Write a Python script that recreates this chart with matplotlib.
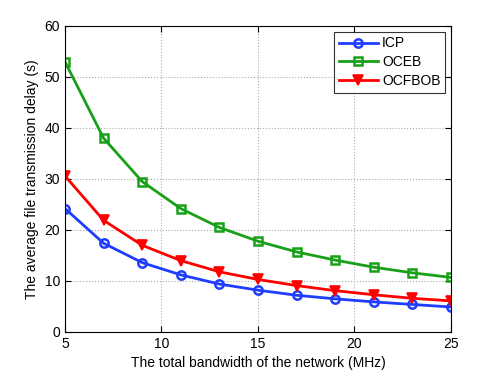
import matplotlib
matplotlib.use('Agg')
import matplotlib.pyplot as plt

bandwidth = [5, 7, 9, 11, 13, 15, 17, 19, 21, 23, 25]
icp = [24.2, 17.4, 13.6, 11.2, 9.4, 8.2, 7.2, 6.5, 5.9, 5.4, 4.9]
oceb = [53.0, 38.0, 29.5, 24.2, 20.5, 17.8, 15.7, 14.1, 12.7, 11.6, 10.7]
ocfbob = [30.6, 21.9, 17.0, 14.0, 11.8, 10.3, 9.1, 8.1, 7.3, 6.6, 6.1]

plt.rcParams['font.family'] = ['Liberation Sans', 'DejaVu Sans']
plt.rcParams['font.size'] = 10

fig = plt.figure(figsize=(4.98, 3.75), dpi=100)
ax = fig.add_axes([0.1305, 0.1147, 0.775, 0.816])

ax.plot(bandwidth, icp, color='#1f3dff', lw=2, marker='o', ms=6,
        mfc='none', mew=1.8, label='ICP')
ax.plot(bandwidth, oceb, color='#18a018', lw=2, marker='s', ms=5.5,
        mfc='none', mew=1.8, label='OCEB')
ax.plot(bandwidth, ocfbob, color='#ff0000', lw=2, marker='v', ms=7,
        mfc='#ff0000', mew=1.2, label='OCFBOB')

ax.set_xlim(5, 25)
ax.set_ylim(0, 60)
ax.set_xticks([5, 10, 15, 20, 25])
ax.set_yticks(range(0, 61, 10))
ax.tick_params(direction='in', top=True, right=True, length=4)
ax.grid(True, linestyle=':', color='#aaaaaa', linewidth=0.8)
for s in ax.spines.values():
    s.set_linewidth(0.8)

ax.set_xlabel('The total bandwidth of the network (MHz)')
ax.set_ylabel('The average file transmission delay (s)')

leg = ax.legend(loc='upper right', fancybox=False, edgecolor='black',
                borderaxespad=0.4, handlelength=2.8, labelspacing=0.35,
                borderpad=0.35, handletextpad=0.3)
leg.get_frame().set_linewidth(0.8)

fig.savefig('out.png', dpi=100)
